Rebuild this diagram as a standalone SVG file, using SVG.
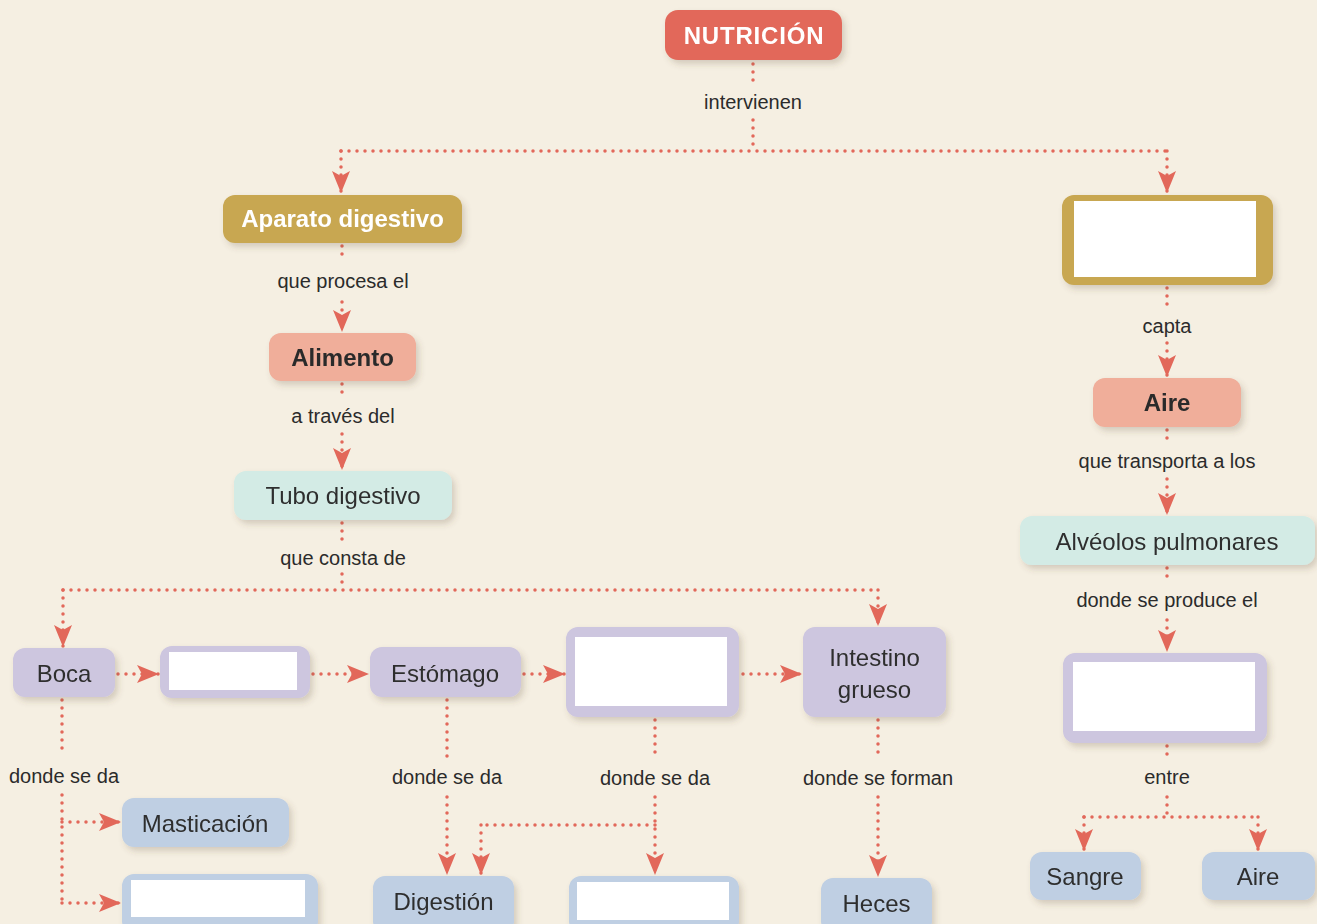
<svg xmlns="http://www.w3.org/2000/svg" width="1317" height="924" viewBox="0 0 1317 924">
<defs>
<filter id="sh" x="-20%" y="-20%" width="150%" height="160%">
<feDropShadow dx="3" dy="4" stdDeviation="3" flood-color="#5a4a30" flood-opacity="0.22"/>
</filter>
<marker id="ah" viewBox="0 0 22 18" refX="22" refY="9" markerWidth="22" markerHeight="18" markerUnits="userSpaceOnUse" orient="auto">
<path d="M0,0 L22,9 L0,18 L5,9 z" fill="#e2685a"/>
</marker>
</defs>
<style>
.dot{fill:none;stroke:#e2685a;stroke-width:3.5;stroke-linecap:round;stroke-dasharray:0 8}
.arr{marker-end:url(#ah)}
.lbl{font-family:"Liberation Sans",Arial,sans-serif;font-size:20px;fill:#2b2b2b;text-anchor:middle}
.nt{font-family:"Liberation Sans",Arial,sans-serif;font-size:24px;fill:#2f2f2f;text-anchor:middle}
.bt{font-family:"Liberation Sans",Arial,sans-serif;font-size:24px;font-weight:bold;text-anchor:middle}
.red{fill:#e2685a}
.gold{fill:#c8a751}
.salmon{fill:#f0ae9a}
.mint{fill:#d3ebe5}
.lav{fill:#cdc6df}
.blue{fill:#bfcfe3}
.white{fill:#ffffff}
</style>
<rect x="0" y="0" width="1317" height="924" fill="#f5efe2"/>

<g id="connectors">
<path class="dot" d="M753,64 V86"/>
<path class="dot" d="M753,120 V151"/>
<path class="dot" d="M341,151 H1167"/>
<path class="dot arr" d="M341,151 V193"/>
<path class="dot arr" d="M1167,151 V193"/>

<path class="dot" d="M342,246 V262"/>
<path class="dot arr" d="M342,302 V332"/>
<path class="dot" d="M342,384 V398"/>
<path class="dot arr" d="M342,434 V470"/>
<path class="dot" d="M342,523 V540"/>
<path class="dot" d="M342,574 V590"/>
<path class="dot" d="M63,590 H878"/>
<path class="dot arr" d="M63,590 V647"/>
<path class="dot arr" d="M878,590 V626"/>

<path class="dot arr" d="M118,674 H159"/>
<path class="dot arr" d="M313,674 H369"/>
<path class="dot arr" d="M524,674 H565"/>
<path class="dot arr" d="M743,674 H802"/>

<path class="dot" d="M62,700 V755"/>
<path class="dot" d="M62,795 V903"/>
<path class="dot arr" d="M62,822 H121"/>
<path class="dot arr" d="M62,903 H121"/>

<path class="dot" d="M447,700 V757"/>
<path class="dot arr" d="M447,797 V875"/>

<path class="dot" d="M655,720 V757"/>
<path class="dot arr" d="M655,797 V875"/>
<path class="dot" d="M655,825 H481"/>
<path class="dot arr" d="M481,825 V875"/>

<path class="dot" d="M878,720 V757"/>
<path class="dot arr" d="M878,797 V877"/>

<path class="dot" d="M1167,288 V305"/>
<path class="dot arr" d="M1167,343 V377"/>
<path class="dot" d="M1167,430 V443"/>
<path class="dot arr" d="M1167,479 V515"/>
<path class="dot" d="M1167,568 V580"/>
<path class="dot arr" d="M1167,620 V652"/>
<path class="dot" d="M1167,746 V760"/>
<path class="dot" d="M1167,797 V817"/>
<path class="dot" d="M1084,817 H1258"/>
<path class="dot arr" d="M1084,817 V851"/>
<path class="dot arr" d="M1258,817 V851"/>
</g>

<g id="labels">
<text class="lbl" x="753" y="109">intervienen</text>
<text class="lbl" x="343" y="288">que procesa el</text>
<text class="lbl" x="343" y="423">a través del</text>
<text class="lbl" x="343" y="565">que consta de</text>
<text class="lbl" x="64" y="783">donde se da</text>
<text class="lbl" x="447" y="784">donde se da</text>
<text class="lbl" x="655" y="785">donde se da</text>
<text class="lbl" x="878" y="785">donde se forman</text>
<text class="lbl" x="1167" y="333">capta</text>
<text class="lbl" x="1167" y="468">que transporta a los</text>
<text class="lbl" x="1167" y="607">donde se produce el</text>
<text class="lbl" x="1167" y="784">entre</text>
</g>

<g id="nutricion" filter="url(#sh)">
<rect class="red" x="665" y="10" width="177" height="50" rx="13"/>
<text class="bt" x="754" y="44" fill="#ffffff" style="letter-spacing:0.8px">NUTRICIÓN</text>
</g>

<g id="aparato-digestivo" filter="url(#sh)">
<rect class="gold" x="223" y="195" width="239" height="48" rx="12"/>
<text class="bt" x="342.5" y="227" fill="#ffffff">Aparato digestivo</text>
</g>

<g id="alimento" filter="url(#sh)">
<rect class="salmon" x="269" y="333" width="147" height="48" rx="12"/>
<text class="bt" x="342.5" y="366" fill="#2b2b2b">Alimento</text>
</g>

<g id="tubo-digestivo" filter="url(#sh)">
<rect class="mint" x="234" y="471" width="218" height="49" rx="12"/>
<text class="nt" x="343" y="504">Tubo digestivo</text>
</g>

<g id="boca" filter="url(#sh)">
<rect class="lav" x="13" y="648" width="102" height="49" rx="12"/>
<text class="nt" x="64" y="682">Boca</text>
</g>

<g id="blank-1" filter="url(#sh)">
<rect class="lav" x="160" y="646" width="150" height="52" rx="12"/>
<rect class="white" x="169" y="652" width="128" height="38"/>
</g>

<g id="estomago" filter="url(#sh)">
<rect class="lav" x="370" y="647" width="151" height="50" rx="12"/>
<text class="nt" x="445" y="682">Estómago</text>
</g>

<g id="blank-2" filter="url(#sh)">
<rect class="lav" x="566" y="627" width="173" height="90" rx="12"/>
<rect class="white" x="575" y="637" width="152" height="69"/>
</g>

<g id="intestino-grueso" filter="url(#sh)">
<rect class="lav" x="803" y="627" width="143" height="90" rx="12"/>
<text class="nt" x="874.5" y="666">Intestino</text>
<text class="nt" x="874.5" y="698">grueso</text>
</g>

<g id="masticacion" filter="url(#sh)">
<rect class="blue" x="122" y="798" width="167" height="49" rx="12"/>
<text class="nt" x="205" y="832">Masticación</text>
</g>

<g id="blank-3" filter="url(#sh)">
<rect class="blue" x="122" y="874" width="196" height="60" rx="12"/>
<rect class="white" x="131" y="880" width="174" height="37"/>
</g>

<g id="digestion" filter="url(#sh)">
<rect class="blue" x="373" y="876" width="141" height="58" rx="12"/>
<text class="nt" x="443.5" y="910">Digestión</text>
</g>

<g id="blank-4" filter="url(#sh)">
<rect class="blue" x="569" y="876" width="170" height="58" rx="12"/>
<rect class="white" x="577" y="882" width="152" height="38"/>
</g>

<g id="heces" filter="url(#sh)">
<rect class="blue" x="821" y="878" width="111" height="56" rx="12"/>
<text class="nt" x="876.5" y="912">Heces</text>
</g>

<g id="blank-gold" filter="url(#sh)">
<rect class="gold" x="1062" y="195" width="211" height="90" rx="12"/>
<rect class="white" x="1074" y="201" width="182" height="76"/>
</g>

<g id="aire-1" filter="url(#sh)">
<rect class="salmon" x="1093" y="378" width="148" height="49" rx="12"/>
<text class="bt" x="1167" y="411" fill="#2b2b2b">Aire</text>
</g>

<g id="alveolos" filter="url(#sh)">
<rect class="mint" x="1020" y="516" width="295" height="49" rx="12"/>
<text class="nt" x="1167" y="550">Alvéolos pulmonares</text>
</g>

<g id="blank-5" filter="url(#sh)">
<rect class="lav" x="1063" y="653" width="204" height="90" rx="12"/>
<rect class="white" x="1073" y="662" width="182" height="69"/>
</g>

<g id="sangre" filter="url(#sh)">
<rect class="blue" x="1030" y="852" width="111" height="48" rx="12"/>
<text class="nt" x="1085" y="885">Sangre</text>
</g>

<g id="aire-2" filter="url(#sh)">
<rect class="blue" x="1202" y="852" width="113" height="48" rx="12"/>
<text class="nt" x="1258" y="885">Aire</text>
</g>
</svg>
